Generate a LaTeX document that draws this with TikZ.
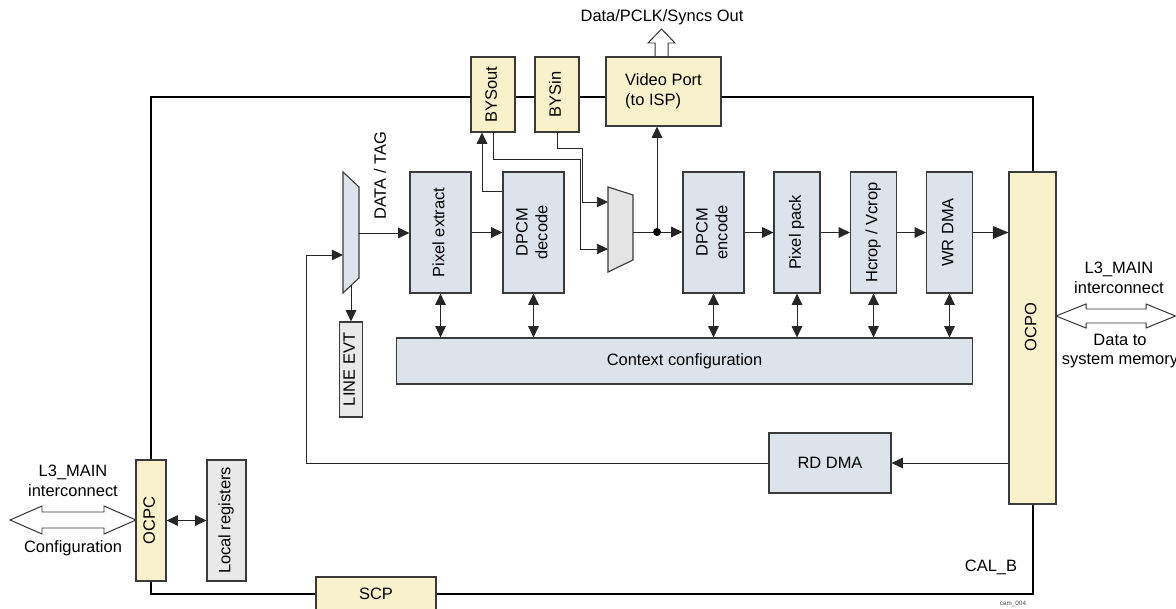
\documentclass[tikz,border=0pt]{standalone}
\usepackage{fontspec}
\setmainfont{Liberation Sans}
\usetikzlibrary{arrows.meta,positioning}

\definecolor{camyellow}{HTML}{F7F1CC}
\definecolor{camblue}{HTML}{DCE3EA}
\definecolor{camgray}{HTML}{E9E9E9}
\definecolor{muxgray}{HTML}{E4E4E4}
\definecolor{edgegray}{HTML}{3A3A3A}

% rotated (vertical) block text, one or more lines
\newcommand{\vlabel}[1]{\rotatebox{90}{\begin{tabular}{@{}c@{}}#1\end{tabular}}}

\begin{document}
\begin{tikzpicture}[
  x=0.025cm, y=-0.025cm,
  >={Triangle[length=8pt,width=7.5pt]},
  font=\fontsize{11.7}{14}\selectfont,
  block/.style={draw=edgegray, line width=0.8pt, inner sep=0pt},
  yblock/.style={block, fill=camyellow},
  bblock/.style={block, fill=camblue},
  gblock/.style={block, fill=camgray},
  wire/.style={draw=black!85, line width=0.7pt},
  hollow/.style={draw=black!80, fill=white, line width=0.7pt},
  jdot/.style={circle, fill=black, inner sep=0pt, minimum size=0.2cm},
]
  \useasboundingbox (0,0) rectangle (1176,609);

  % CAL_B frame
  \draw[line width=1.6pt] (151,97) rectangle (1033,594);

  % hollow bus arrows
  \draw[hollow] (655,57) -- (655,43) -- (648,43) -- (661.5,29)
    -- (675,43) -- (668,43) -- (668,57);
  \draw[hollow] (10,520) -- (42,506) -- (42,512) -- (104,512) -- (104,506)
    -- (136,520) -- (104,534) -- (104,528) -- (42,528) -- (42,534) -- cycle;
  \draw[hollow] (1056,316) -- (1086,304) -- (1086,309) -- (1146,309)
    -- (1146,304) -- (1175.5,316) -- (1146,328) -- (1146,323) -- (1086,323)
    -- (1086,328) -- cycle;

  % interface blocks on the frame
  \node[yblock, minimum width=1.1cm, minimum height=1.875cm] (bysout)
    at (493,94.5) {\vlabel{BYSout}};
  \node[yblock, minimum width=1.1cm, minimum height=1.875cm] (bysin)
    at (557,94.5) {\vlabel{BYSin}};
  \node[yblock, minimum width=2.875cm, minimum height=1.725cm, align=left]
    (vport) at (663.5,91.5) {Video Port\\(to ISP)};
  \node[yblock, minimum width=1.175cm, minimum height=8.3cm] (ocpo)
    at (1032.5,338) {\vlabel{\hspace*{0.55cm}OCPO}};
  \node[yblock, minimum width=0.75cm, minimum height=3.025cm] (ocpc)
    at (151,520.5) {\vlabel{OCPC}};
  \node[yblock, minimum width=3cm, minimum height=0.85cm] (scp)
    at (376,594) {SCP};

  % pipeline blocks
  \node[bblock, minimum width=1.525cm, minimum height=3.025cm] (pixext)
    at (440.5,232.5) {\vlabel{Pixel extract}};
  \node[bblock, minimum width=1.525cm, minimum height=3.025cm] (dpcmdec)
    at (533.5,232.5) {\vlabel{DPCM\\decode}};
  \node[bblock, minimum width=1.525cm, minimum height=3.025cm] (dpcmenc)
    at (713.5,232.5) {\vlabel{DPCM\\encode}};
  \foreach \cx/\nm/\txt in {797/pixpack/Pixel pack,
      873.5/hcrop/{Hcrop / Vcrop}, 949.5/wrdma/WR DMA} {
    \node[bblock, minimum width=1.15cm, minimum height=3.025cm] (\nm)
      at (\cx,232.5) {\vlabel{\txt}};
  }
  \node[bblock, minimum width=14.375cm, minimum height=1.15cm] (ctx)
    at (684.5,361) {Context configuration};
  \node[bblock, minimum width=3.05cm, minimum height=1.5cm] (rddma)
    at (830,463) {RD DMA};
  \node[gblock, minimum width=0.575cm, minimum height=2.375cm] (lineevt)
    at (351,369.5) {\vlabel{LINE EVT}};
  \node[gblock, minimum width=0.975cm, minimum height=3.025cm] (locreg)
    at (226.5,520.5) {\vlabel{Local registers}};

  % muxes
  \draw[draw=edgegray, line width=0.8pt, fill=camblue]
    (343,172) -- (359,187) -- (359,278) -- (343,293) -- cycle;
  \draw[draw=edgegray, line width=0.8pt, fill=muxgray]
    (608,187) -- (633,195) -- (633,260) -- (608,272) -- cycle;
  \coordinate (m1in) at (343,255);
  \coordinate (m1out) at (359,233);
  \coordinate (m1bot) at (351,285);
  \coordinate (m2a) at (608,202);
  \coordinate (m2b) at (608,249);
  \coordinate (m2out) at (633,232);
  \node[jdot] (jn) at (657,232) {};

  % data path
  \draw[wire,->] (m1out) -- (m1out -| pixext.west);
  \draw[wire,->] (pixext) -- (dpcmdec);
  \draw[wire,->] (dpcmdec.west |- 0,191) -| (bysout.south -| 482,0);
  \draw[wire,->] (bysout.south) |- (580,159) |- (m2b);
  \draw[wire,->] (bysin.south) |- (582,148) |- (m2a);
  \draw[wire] (m2out) -- (jn);
  \draw[wire,->] (jn) -- (dpcmenc.west |- jn);
  \draw[wire,->] (jn) -- (jn |- vport.south);
  \foreach \a/\b in {dpcmenc/pixpack, pixpack/hcrop, hcrop/wrdma}
    \draw[wire,->] (\a) -- (\b);
  \draw[wire,-{Triangle[length=11pt,width=9pt]}]
    (wrdma.east) -- (wrdma.east -| ocpo.west);

  % context configuration links
  \foreach \nm in {pixext,dpcmdec,dpcmenc,pixpack,hcrop,wrdma}
    \draw[wire,<->] (\nm.south) -- (\nm.south |- ctx.north);

  % line event and read-back loop
  \draw[wire,->] (m1bot) -- (lineevt.north);
  \draw[wire,->] (ocpo.west |- rddma.east) -- (rddma.east);
  \draw[wire,->] (rddma.west) -- (rddma.west -| 306,0) |- (m1in);
  \draw[wire,<->] (ocpc.east) -- (locreg.west);

  % labels
  \node (dataout) at (662,17) {Data/PCLK/Syncs Out};
  \node (datatag) at (380,176) {\rotatebox{90}{DATA / TAG}};
  \node[align=center] (cfgtop) at (73,481) {L3\_MAIN\\interconnect};
  \node (cfgbot) at (73,548) {Configuration};
  \node[align=center] (memtop) at (1119,278) {L3\_MAIN\\interconnect};
  \node[align=center] (membot) at (1120,351) {Data to\\system memory};
  \node[anchor=east] (calb) at (1022,567) {CAL\_B};
  \node[font=\fontsize{4.5}{5}\selectfont, text=black!70] (figtag)
    at (1013,604) {cam\_004};
\end{tikzpicture}
\end{document}
